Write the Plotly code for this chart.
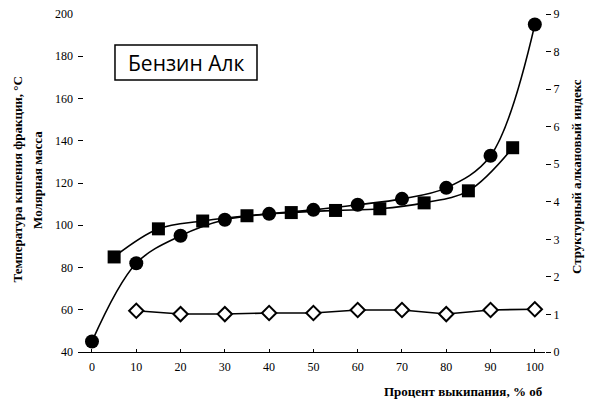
import plotly.graph_objects as go

# Data
temp_x = [0, 10, 20, 30, 40, 50, 60, 70, 80, 90, 100]
temp_y = [45, 82, 95, 102.6, 105.4, 107.3, 109.7, 112.5, 117.7, 132.9, 195]

mass_x = [5, 15, 25, 35, 45, 55, 65, 75, 85, 95]
mass_y = [85, 98.3, 102, 104.5, 106, 107, 107.8, 110.6, 116.3, 136.7]

index_x = [10, 20, 30, 40, 50, 60, 70, 80, 90, 100]
index_y = [1.1, 1.01, 1.01, 1.04, 1.04, 1.12, 1.12, 1.01, 1.12, 1.14]

x_ticks = [0, 10, 20, 30, 40, 50, 60, 70, 80, 90, 100]
left_ticks = [40, 60, 80, 100, 120, 140, 160, 180, 200]
right_ticks = [0, 1, 2, 3, 4, 5, 6, 7, 8, 9]

serif = "Liberation Serif"

fig = go.Figure()

fig.add_trace(go.Scatter(
    x=temp_x, y=temp_y, mode="lines+markers", cliponaxis=False,
    line=dict(color="black", width=1.6, shape="spline", smoothing=1.0),
    marker=dict(symbol="circle", size=14, color="black"),
    showlegend=False, yaxis="y"))

fig.add_trace(go.Scatter(
    x=mass_x, y=mass_y, mode="lines+markers", cliponaxis=False,
    line=dict(color="black", width=1.6, shape="spline", smoothing=1.0),
    marker=dict(symbol="square", size=13, color="black"),
    showlegend=False, yaxis="y"))

fig.add_trace(go.Scatter(
    x=index_x, y=index_y, mode="lines+markers", cliponaxis=False,
    line=dict(color="black", width=1.6),
    marker=dict(symbol="diamond", size=11, color="white",
                line=dict(color="black", width=2)),
    showlegend=False, yaxis="y2"))

fig.update_layout(
    width=588, height=397,
    margin=dict(l=70, r=51, t=6, b=53),
    paper_bgcolor="white", plot_bgcolor="white",
    font=dict(family=serif, size=12, color="black"),
    xaxis=dict(
        range=[-3.16, 102.3], tickvals=x_ticks, showgrid=False, zeroline=False,
        showline=True, linecolor="black", linewidth=1,
        ticks="inside", ticklen=3, tickcolor="black", ticklabelstandoff=4,
        tickfont=dict(family=serif, size=12), automargin=False,
        ticklabeloverflow="allow",
    ),
    yaxis=dict(
        range=[40, 200], tickvals=left_ticks, showgrid=False, zeroline=False,
        showline=False, ticks="inside", ticklen=5, tickcolor="black",
        ticklabelstandoff=4,
        tickfont=dict(family=serif, size=12), automargin=False,
        ticklabeloverflow="allow",
    ),
    yaxis2=dict(
        range=[0, 9], tickvals=right_ticks, overlaying="y", side="right",
        showgrid=False, zeroline=False, showline=False,
        ticks="outside", ticklen=5, tickcolor="black",
        tickfont=dict(family=serif, size=12), automargin=False,
        ticklabeloverflow="allow",
    ),
    shapes=[
        dict(type="rect", xref="paper", yref="paper",
             x0=0.0792, x1=0.3833, y0=0.805, y1=0.908,
             line=dict(color="black", width=1.5), fillcolor="white", layer="above"),
    ],
    annotations=[
        dict(text="<b>Температура кипения фракции, °C</b>", xref="paper", yref="paper",
             x=-0.1295, y=0.509, textangle=-90, showarrow=False,
             font=dict(family=serif, size=13), xanchor="center", yanchor="middle"),
        dict(text="<b>Молярная масса</b>", xref="paper", yref="paper",
             x=-0.0857, y=0.509, textangle=-90, showarrow=False,
             font=dict(family=serif, size=13), xanchor="center", yanchor="middle"),
        dict(text="<b>Структурный алкановый индекс</b>", xref="paper", yref="paper",
             x=1.066, y=0.52, textangle=-90, showarrow=False,
             font=dict(family=serif, size=13), xanchor="center", yanchor="middle"),
        dict(text="<b>Процент выкипания, % об</b>", xref="paper", yref="paper",
             x=1.0, y=-0.118, showarrow=False,
             font=dict(family=serif, size=13), xanchor="right", yanchor="middle"),
        dict(text="Бензин Алк", xref="paper", yref="paper",
             x=0.2323, y=0.8565, showarrow=False,
             font=dict(family="Open Sans", size=21, color="black"),
             xanchor="center", yanchor="middle"),
    ],
)

fig.write_html("out.html")
